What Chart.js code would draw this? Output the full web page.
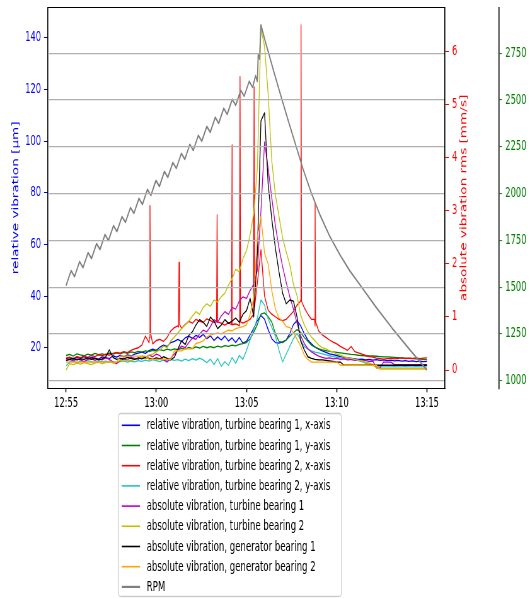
<!DOCTYPE html>
<html>
<head>
<meta charset="utf-8">
<script src="https://cdn.jsdelivr.net/npm/chart.js@4.4.1/dist/chart.umd.min.js"></script>
<style>
  html, body { margin: 0; padding: 0; background: #fff; overflow: hidden; }
  #chart { display: block; width: 530px; height: 598px; }
</style>
</head>
<body>
<canvas id="chart" width="841" height="598" style="width:530px;height:598px"></canvas>
<script>
// ---- time axis (minutes after 12:55) ----
const xTickMinutes = [0, 5, 10, 15, 20];
const xTickLabels = ['12:55', '13:00', '13:05', '13:10', '13:15'];
const relTicks = [20, 40, 60, 80, 100, 120, 140];
const absTicks = [0, 1, 2, 3, 4, 5, 6];
const rpmTicks = [1000, 1250, 1500, 1750, 2000, 2250, 2500, 2750];

// vibration logger writes one reading every 12 s
const sampleMinutes = Array.from({ length: 101 }, (_, i) => i * 0.2);

// relative vibration [µm]
const relTb1x = [
  15.8,16.2,15.5,16.4,15.9,16.6,15.7,16.3,16.0,15.6,
  16.5,16.2,15.8,16.9,16.4,17.0,16.5,17.2,16.8,17.5,
  17.9,18.3,17.8,18.9,19.5,19.0,20.2,21.0,20.5,22.0,
  22.5,23.2,22.4,23.8,24.5,23.6,24.8,24.0,25.2,23.5,
  24.6,22.8,24.2,23.0,24.5,22.6,23.8,22.0,24.0,21.8,
  22.5,25.0,27.5,30.5,32.5,31.0,27.0,23.5,22.0,21.8,
  22.3,23.0,25.5,29.0,30.5,28.5,25.5,23.0,21.5,20.2,
  19.5,18.8,18.2,17.6,17.3,17.0,16.6,16.3,16.1,15.9,
  15.7,15.5,15.6,15.3,15.5,15.2,15.4,15.1,15.3,15.0,
  15.2,14.9,15.1,14.8,15.0,14.7,14.9,14.6,14.8,14.6,
  14.7
];
const relTb1y = [
  17.0,17.4,16.8,17.6,17.2,16.9,17.5,17.1,17.8,17.3,
  17.6,17.2,17.9,17.5,18.0,17.6,18.2,17.8,18.4,18.1,
  18.6,18.3,18.8,18.5,19.0,18.7,19.3,18.9,19.5,19.1,
  19.6,19.3,19.8,19.5,20.1,19.7,20.3,19.9,20.5,20.0,
  20.4,20.0,20.6,20.2,20.8,20.5,21.0,20.7,21.3,21.6,
  22.0,23.5,26.0,29.0,33.0,33.5,32.0,30.0,25.5,22.5,
  22.0,23.0,24.5,25.8,27.0,26.0,24.0,22.5,21.0,20.2,
  19.6,19.2,18.9,18.6,18.4,18.2,18.0,17.8,17.6,17.4,
  17.3,17.1,17.0,16.9,16.8,16.8,16.7,16.6,16.5,16.5,
  16.4,16.3,16.2,16.1,16.0,15.9,15.8,15.7,15.6,15.5,
  15.4
];
const relTb2x = [
  16.0,16.4,15.8,16.6,16.2,16.8,16.3,17.0,16.6,17.2,
  16.9,17.5,17.1,17.8,18.2,17.9,18.5,18.1,19.0,19.6,
  20.0,21.0,24.5,22.0,21.5,22.8,23.2,22.5,24.0,26.5,
  27.8,28.5,27.5,29.0,30.2,29.5,31.0,30.2,29.8,31.2,
  30.5,29.8,30.8,29.5,28.8,29.6,28.9,29.2,28.6,29.5,
  30.2,31.0,33.0,45.0,58.0,40.0,34.5,33.0,32.0,31.0,
  30.5,31.0,32.5,34.0,36.5,38.5,35.5,33.0,31.0,28.5,
  26.5,25.0,24.0,23.0,22.2,21.5,20.5,19.8,19.0,20.5,
  18.5,18.0,17.5,17.0,16.6,16.4,16.0,15.8,15.6,15.8,
  16.0,15.7,15.9,16.1,15.8,16.0,15.9,16.1,15.8,16.0,
  16.1
];
// short bursts on turbine bearing 2, x-axis
const relTb2xBurstMinutes = [4.62,4.65,4.68, 6.23,6.26,6.29, 8.34,8.37,8.40, 9.17,9.20,9.23,
                             9.61,9.64,9.67, 10.39,10.42,10.45, 12.99,13.02,13.05, 13.77,13.80,13.83];
const relTb2xBurstValues  = [24,75,26, 28,53,29, 30,71.5,30, 29,98.5,29,
                             29,125,30, 33,121,36, 38,145,38, 31,76,30];
const relTb2y = [
  13.0,14.5,14.9,14.2,14.8,14.4,15.0,14.6,14.3,14.9,
  14.5,14.8,14.3,14.7,14.2,14.6,14.9,14.4,14.8,14.5,
  15.0,14.7,15.2,14.8,15.4,15.0,14.6,15.3,14.9,15.5,
  15.1,15.4,14.8,15.6,15.0,15.8,15.2,16.0,15.3,14.2,
  15.6,13.5,15.8,12.8,14.6,13.2,16.2,14.0,17.0,15.5,
  19.0,23.0,27.0,31.5,38.5,36.5,31.0,28.0,24.5,19.0,
  14.5,17.5,20.5,23.5,25.5,23.0,20.5,19.5,18.8,18.3,
  18.0,17.6,17.2,16.9,16.6,16.3,16.1,15.9,15.7,15.5,
  15.3,15.0,14.6,14.0,13.6,13.2,12.9,12.6,12.6,12.6,
  12.6,12.7,12.6,12.6,12.7,12.6,12.6,12.7,12.6,12.6,
  12.6
];

// absolute vibration rms [mm/s]
const absTb1 = [
  0.18,0.20,0.17,0.21,0.19,0.16,0.20,0.22,0.18,0.21,
  0.19,0.23,0.20,0.15,0.12,0.18,0.21,0.19,0.24,0.22,
  0.20,0.26,0.24,0.28,0.25,0.30,0.27,0.19,0.15,0.22,
  0.30,0.38,0.45,0.42,0.52,0.60,0.58,0.68,0.75,0.72,
  0.82,0.95,0.90,1.02,1.10,1.05,1.18,1.15,1.30,1.38,
  1.35,1.50,1.62,1.88,3.00,4.30,3.80,3.25,2.72,2.30,
  1.95,1.65,1.38,1.15,0.88,0.65,0.50,0.40,0.34,0.30,
  0.26,0.24,0.22,0.23,0.21,0.22,0.20,0.21,0.19,0.20,
  0.18,0.19,0.17,0.18,0.16,0.17,0.04,0.04,0.15,0.15,
  0.15,0.10,0.10,0.10,0.10,0.10,0.10,0.10,0.10,0.10,
  0.10
];
const absTb2 = [
  0.00,0.12,0.10,0.13,0.11,0.14,0.12,0.10,0.13,0.15,
  0.12,0.14,0.17,0.13,0.15,0.18,0.16,0.19,0.17,0.20,
  0.22,0.25,0.22,0.28,0.30,0.34,0.38,0.45,0.42,0.55,
  0.62,0.70,0.78,0.85,0.92,1.02,1.10,1.05,1.18,1.25,
  1.20,1.32,1.28,1.38,1.45,1.60,1.72,1.90,1.85,2.10,
  2.25,2.55,2.95,3.80,6.45,6.10,5.20,3.95,3.30,2.90,
  2.49,2.23,1.98,1.62,1.40,1.04,0.85,0.72,0.62,0.55,
  0.47,0.42,0.40,0.36,0.34,0.30,0.28,0.25,0.23,0.22,
  0.20,0.18,0.17,0.15,0.13,0.10,0.04,0.02,0.02,0.02,
  0.02,0.02,0.02,0.02,0.02,0.02,0.02,0.02,0.02,0.02,
  0.02
];
const absGb1 = [
  0.18,0.20,0.22,0.19,0.21,0.20,0.23,0.20,0.22,0.19,
  0.21,0.25,0.38,0.24,0.20,0.22,0.21,0.24,0.22,0.20,
  0.23,0.21,0.24,0.22,0.20,0.23,0.21,0.25,0.22,0.19,
  0.24,0.40,0.55,0.48,0.65,0.72,0.85,0.95,0.90,0.82,
  1.00,0.92,0.78,0.85,0.95,0.88,0.92,0.98,0.90,1.05,
  1.12,1.35,1.00,2.20,4.70,4.85,3.50,2.85,2.30,1.85,
  1.45,1.25,1.32,1.30,1.00,0.55,0.38,0.25,0.22,0.20,
  0.19,0.19,0.18,0.17,0.16,0.15,0.15,0.09,0.09,0.09,
  0.09,0.09,0.09,0.09,0.09,0.09,0.09,0.09,0.09,0.09,
  0.09,0.09,0.09,0.09,0.09,0.09,0.09,0.09,0.09,0.09,
  0.09
];
const absGb2 = [
  0.15,0.15,0.15,0.15,0.15,0.15,0.15,0.15,0.15,0.15,
  0.15,0.15,0.15,0.15,0.15,0.26,0.26,0.26,0.26,0.26,
  0.26,0.26,0.26,0.20,0.20,0.20,0.20,0.20,0.20,0.20,
  0.36,0.36,0.36,0.40,0.40,0.40,0.50,0.52,0.55,0.62,
  0.66,0.68,0.70,0.68,0.72,0.75,0.74,0.78,0.80,0.82,
  0.85,1.05,1.35,2.50,2.90,2.20,2.00,1.50,1.15,0.98,
  0.92,0.82,0.80,0.70,0.58,0.45,0.28,0.20,0.15,0.15,
  0.15,0.15,0.15,0.15,0.15,0.15,0.09,0.09,0.09,0.09,
  0.09,0.09,0.09,0.09,0.09,0.09,0.09,0.02,0.02,0.02,
  0.02,0.02,0.02,0.02,0.02,0.02,0.02,0.02,0.02,0.02,
  0.02
];

// shaft speed [1/min]
const rpmMinutes = [
  0, 0.28, 0.47, 0.75, 0.94, 1.22, 1.41, 1.69, 1.88, 2.16, 2.35, 2.63, 2.82, 3.10, 3.29, 3.57,
  3.76, 4.04, 4.23, 4.51, 4.70, 4.98, 5.17, 5.45, 5.64, 5.92, 6.11, 6.39, 6.58, 6.86, 7.05, 7.33,
  7.52, 7.80, 7.99, 8.27, 8.46, 8.74, 8.93, 9.21, 9.40, 9.68, 9.87, 10.15, 10.34, 10.50, 10.60,
  10.65, 10.72, 10.80, 11.02, 11.19, 11.58, 11.97, 12.35, 12.74, 13.13, 13.57, 14.07, 14.63,
  15.18, 15.73, 16.29, 17.17, 18.06, 19.06, 20.0
];
const rpm = [
  1508, 1588, 1556, 1636, 1604, 1684, 1653, 1732, 1701, 1781, 1749, 1829, 1797, 1877, 1846, 1925,
  1894, 1974, 1942, 2022, 1990, 2070, 2038, 2118, 2087, 2166, 2135, 2215, 2183, 2263, 2231, 2311,
  2280, 2359, 2328, 2408, 2376, 2456, 2424, 2504, 2472, 2552, 2521, 2600, 2568, 2630, 2600,
  2745, 2720, 2902, 2821, 2763, 2629, 2501, 2378, 2255, 2132, 2009, 1886, 1768,
  1672, 1586, 1512, 1394, 1282, 1164, 1057
];

// ---- helpers ----
const pts = (xs, ys) => ys.map((y, i) => ({ x: xs[i], y }));
const withBursts = (xs, ys, bx, by) => pts(xs, ys).concat(pts(bx, by)).sort((a, b) => a.x - b.x);
const series = (label, color, axis, data, width, order) => ({
  label, data, yAxisID: axis, order,
  borderColor: color, backgroundColor: color, borderWidth: width,
  pointRadius: 0, fill: false, tension: 0, borderJoinStyle: 'round'
});

Chart.defaults.font.family = "'DejaVu Sans', sans-serif";

const canvas = document.getElementById('chart');
// canvas units per screen pixel in x (the bitmap is drawn condensed to 530 px)
const KX = canvas.width / 530;
const sx = v => v * KX;

const TICK_FONT = { size: 13.2 };

// top spine of the plot frame
const frameTop = {
  id: 'frameTop',
  afterDraw(chart) {
    const { ctx, chartArea: a } = chart;
    ctx.save();
    ctx.strokeStyle = '#000';
    ctx.lineWidth = 1;
    ctx.beginPath();
    ctx.moveTo(a.left, Math.round(a.top) + 0.5);
    ctx.lineTo(a.right, Math.round(a.top) + 0.5);
    ctx.stroke();
    ctx.restore();
  }
};

// rotated axis titles, both reading bottom-to-top
const axisTitles = {
  id: 'axisTitles',
  afterDraw(chart) {
    const { ctx, chartArea: a, scales } = chart;
    const cy = (a.top + a.bottom) / 2;
    const put = (text, x, color) => {
      ctx.save();
      ctx.translate(x, cy);
      ctx.rotate(-Math.PI / 2);
      ctx.font = "13.6px 'DejaVu Sans', sans-serif";
      ctx.fillStyle = color;
      ctx.textAlign = 'center';
      ctx.textBaseline = 'middle';
      ctx.fillText(text, 0, 0);
      ctx.restore();
    };
    put('relative vibration [μm]', scales.y.left + sx(15.8), '#0000ff');
    put('absolute vibration rms [mm/s]', scales.y1.left + sx(19), '#ff0000');
  }
};

// boxed legend below the plot, one entry per row
const legendPanel = {
  id: 'legendPanel',
  afterDraw(chart) {
    const { ctx } = chart;
    const left = sx(118.3), right = sx(341.5), top = 413.5, bottom = 596.5;
    ctx.save();
    ctx.fillStyle = '#ffffff';
    ctx.strokeStyle = '#cccccc';
    ctx.lineWidth = 1.3;
    ctx.beginPath();
    ctx.roundRect(left, top, right - left, bottom - top, 4);
    ctx.fill();
    ctx.stroke();
    chart.data.datasets.forEach((ds, i) => {
      const y = 425.3 + i * 20.2;
      ctx.strokeStyle = ds.borderColor;
      ctx.lineWidth = ds.borderWidth + 0.3;
      ctx.beginPath();
      ctx.moveTo(sx(121.7), y);
      ctx.lineTo(sx(140), y);
      ctx.stroke();
      ctx.fillStyle = '#000';
      ctx.font = "13.6px 'DejaVu Sans', sans-serif";
      ctx.textAlign = 'left';
      ctx.textBaseline = 'middle';
      ctx.fillText(ds.label, sx(146.7), y + 0.5);
    });
    ctx.restore();
  }
};

const fixedTicks = list => scale => { scale.ticks = list.map(v => ({ value: v })); };
const fixedWidth = w => scale => {
  scale.width = w;
  scale.paddingTop = 0; scale.paddingBottom = 0; scale.paddingLeft = 0; scale.paddingRight = 0;
};

new Chart(canvas, {
  type: 'line',
  data: {
    datasets: [
      series('relative vibration, turbine bearing 1, x-axis', '#0000ff', 'y', pts(sampleMinutes, relTb1x), 1.3, 8),
      series('relative vibration, turbine bearing 1, y-axis', '#008000', 'y', pts(sampleMinutes, relTb1y), 1.3, 7),
      series('relative vibration, turbine bearing 2, x-axis', '#ff0000', 'y',
             withBursts(sampleMinutes, relTb2x, relTb2xBurstMinutes, relTb2xBurstValues), 1.3, 6),
      series('relative vibration, turbine bearing 2, y-axis', '#22c4c4', 'y', pts(sampleMinutes, relTb2y), 1.3, 5),
      series('absolute vibration, turbine bearing 1', '#bf00bf', 'y1', pts(sampleMinutes, absTb1), 1.3, 4),
      series('absolute vibration, turbine bearing 2', '#bfbf00', 'y1', pts(sampleMinutes, absTb2), 1.3, 3),
      series('absolute vibration, generator bearing 1', '#000000', 'y1', pts(sampleMinutes, absGb1), 1.3, 2),
      series('absolute vibration, generator bearing 2', '#ffa500', 'y1', pts(sampleMinutes, absGb2), 1.3, 1),
      series('RPM', '#808080', 'y2', pts(rpmMinutes, rpm), 1.9, 0)
    ]
  },
  options: {
    responsive: false,
    animation: false,
    devicePixelRatio: 1,
    events: [],
    layout: { padding: { top: 7.3, bottom: 184.7, left: 0, right: 0 } },
    plugins: { legend: { display: false }, tooltip: { enabled: false } },
    scales: {
      x: {
        type: 'linear', position: 'bottom', min: -1, max: 21, bounds: 'data',
        afterBuildTicks: fixedTicks(xTickMinutes),
        afterFit: s => { s.height = 25; s.paddingLeft = 0; s.paddingRight = 0; },
        ticks: { callback: (v, i) => xTickLabels[i], color: '#000', font: TICK_FONT, padding: 3,
                 maxRotation: 0, autoSkip: false },
        grid: { drawOnChartArea: false, drawTicks: true, tickLength: 4, tickColor: '#000', tickWidth: sx(1) },
        border: { color: '#000', width: 1 }
      },
      y: {
        type: 'linear', position: 'left', min: 4.3, max: 151.8, bounds: 'data',
        afterBuildTicks: fixedTicks(relTicks),
        afterFit: fixedWidth(sx(48)),
        ticks: { callback: v => String(v), color: '#0000ff', font: TICK_FONT, padding: sx(3), autoSkip: false },
        grid: { drawOnChartArea: false, drawTicks: true, tickLength: sx(4), tickColor: '#0000ff', tickWidth: 1 },
        border: { color: '#000', width: sx(1) }
      },
      y1: {
        type: 'linear', position: 'right', weight: 0, min: -0.345, max: 6.84, bounds: 'data',
        afterBuildTicks: fixedTicks(absTicks),
        afterFit: fixedWidth(sx(54)),
        ticks: { callback: v => String(v), color: '#ff0000', font: TICK_FONT, padding: sx(3), autoSkip: false },
        grid: { drawOnChartArea: false, drawTicks: true, tickLength: sx(4), tickColor: '#ff0000', tickWidth: 1 },
        border: { color: '#000', width: sx(1) }
      },
      y2: {
        type: 'linear', position: 'right', weight: 1, min: 959, max: 2996, bounds: 'data',
        afterBuildTicks: fixedTicks(rpmTicks),
        afterFit: fixedWidth(sx(31)),
        ticks: { callback: v => String(v), color: '#008000', font: TICK_FONT, padding: sx(3.3), autoSkip: false },
        // speed grid sits above the vibration traces
        grid: { drawOnChartArea: true, color: '#b0b0b0', lineWidth: 1.2, z: 1,
                drawTicks: true, tickLength: sx(3), tickColor: '#008000', tickWidth: 1 },
        border: { color: '#000', width: sx(1), z: 2 }
      }
    }
  },
  plugins: [frameTop, axisTitles, legendPanel]
});
</script>
</body>
</html>
